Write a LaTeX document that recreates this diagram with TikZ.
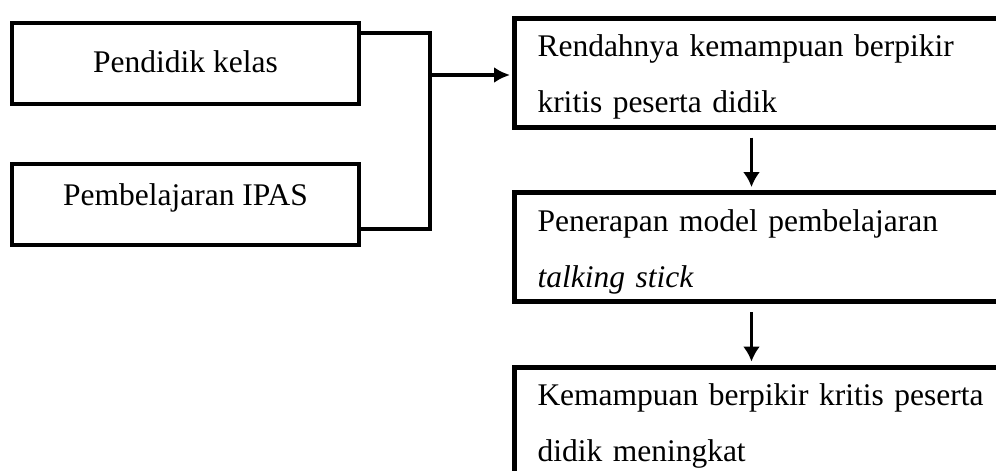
\documentclass[tikz,border=0pt]{standalone}
\usepackage{fontspec}
\setmainfont{Liberation Serif}
\usepackage{tikz}
\usetikzlibrary{arrows.meta,positioning,calc}

\tikzset{
  kotak/.style={draw,line width=4pt,rectangle,inner sep=0pt,
    minimum width=347pt,minimum height=81pt,text height=21.5pt,
    font=\fontsize{31.5}{56}\selectfont},
  kotakkanan/.style={draw,line width=5pt,rectangle,anchor=north west,
    text width=450pt,align=left,inner xsep=23pt,inner ysep=0pt,
    minimum height=109pt,font=\fontsize{31.5}{56}\selectfont},
  garis/.style={line width=4pt},
  panah/.style={-{Latex[length=15pt,width=17pt]},line width=2.5pt},
}
\newcommand{\naik}{\rule{0pt}{31pt}}

\begin{document}
\begin{tikzpicture}[x=1pt,y=-1pt]
\useasboundingbox (0,0) rectangle (996,471);
\clip (0,0) rectangle (996,471);
% kotak kiri
\node[kotak,text depth=4.5pt] (pendidik) at (185.5,63.5) {Pendidik kelas};
\node[kotak,text depth=20.5pt] (ipas) at (185.5,204.5) {Pembelajaran IPAS};
% kotak kanan
\node[kotakkanan] (rendah) at (512,15.5) {\naik Rendahnya kemampuan berpikir\\kritis peserta didik};
\node[kotakkanan] (model) at (512,190) {\naik Penerapan model pembelajaran\\\textit{talking stick}};
\node[kotakkanan] (hasil) at (512,364.5) {\naik Kemampuan berpikir kritis peserta\\didik meningkat};
% penghubung
\draw[garis] ([yshift=-12pt]pendidik.north east) -- ++(69,0) |- ([yshift=18pt]ipas.south east);
\coordinate (simpul) at (430,75);
\draw[garis,-{Latex[length=16pt,width=16pt]},shorten >=2pt] (simpul) -- (simpul -| rendah.west);
\draw[panah] ([xshift=-11pt,yshift=-8pt]rendah.south) -- ([xshift=-11pt,yshift=3pt]model.north);
\draw[panah] ([xshift=-11pt,yshift=-8pt]model.south) -- ([xshift=-11pt,yshift=3pt]hasil.north);
\end{tikzpicture}
\end{document}
